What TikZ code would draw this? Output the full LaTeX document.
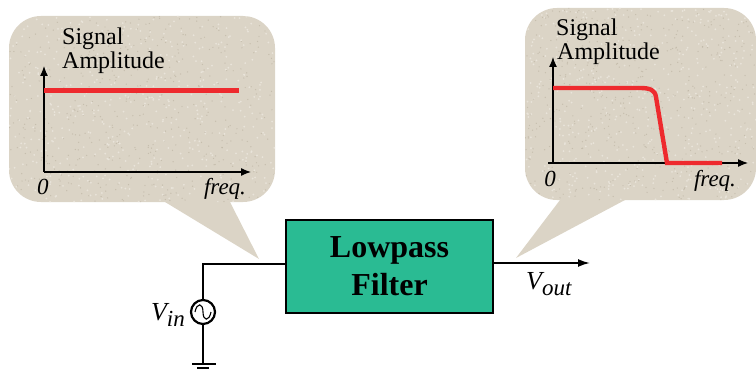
\documentclass[tikz,border=0pt]{standalone}
\usepackage{fontspec}
\setmainfont{Liberation Serif}
\usetikzlibrary{arrows.meta}
\definecolor{bubblefill}{HTML}{DBD4C6}
\definecolor{speckdark}{HTML}{B9B09F}
\definecolor{specklight}{HTML}{E9E4DA}
\definecolor{filterfill}{HTML}{2ABB93}
\definecolor{curvered}{HTML}{EE2A2E}
\newcommand{\itsub}[2]{{\fontsize{26}{27}\selectfont\textit{#1}}\raisebox{-0.3em}{\textit{#2}}}
% grainy paper look of the bubbles
\newcommand{\speckle}[4]{
    \begin{scope}
        \clip[rounded corners=32pt] (#1,#2) rectangle (#3,#4);
        \foreach \i in {1,...,500}{
            \pgfmathsetmacro{\px}{#1+rnd*(#3-#1)}
            \pgfmathsetmacro{\py}{#2+rnd*(#4-#2)}
            \fill[speckdark, opacity=.6] (\px,\py) circle (.7pt);
            \pgfmathsetmacro{\px}{#1+rnd*(#3-#1)}
            \pgfmathsetmacro{\py}{#2+rnd*(#4-#2)}
            \fill[specklight] (\px,\py) circle (1pt);
        }
    \end{scope}
}
\tikzset{
    bubble/.style={fill=bubblefill, rounded corners=32pt, inner sep=0pt},
    axis/.style={draw=black, line width=1.2pt, -{Latex[length=10pt,width=8pt]}},
    curve/.style={draw=curvered, line width=4.4pt},
    wire/.style={draw=black, line width=1.8pt},
    lbl/.style={font=\fontsize{24}{25}\selectfont, inner sep=0pt, anchor=base west},
    ilbl/.style={font=\fontsize{23}{24}\selectfont\itshape, inner sep=0pt, anchor=base}
}
\begin{document}
\begin{tikzpicture}[x=1pt, y=-1pt]
    \useasboundingbox (0,0) rectangle (756,369);
    \pgfmathsetseed{7}
    % left bubble
    \node[bubble, minimum width=266pt, minimum height=186pt] (bubbleA) at (142,109) {};
    \coordinate (tipA) at (259,259);
    \fill[bubblefill] (165,195) -- (165,202) -- (tipA) -- (230,202) -- (230,195) -- cycle;
    \speckle{9}{16}{275}{202}
    % right bubble
    \node[bubble, minimum width=231pt, minimum height=192pt] (bubbleB) at (640.5,104) {};
    \coordinate (tipB) at (516,258);
    \fill[bubblefill] (560,193) -- (560,200) -- (tipB) -- (625,200) -- (625,193) -- cycle;
    \speckle{525}{8}{756}{200}
    % left plot
    \coordinate (originA) at (44,172);
    \coordinate (topA) at (44,66);
    \coordinate (endA) at (251,172);
    \draw[axis] (originA) -- (topA);
    \draw[axis] (originA) -- (endA);
    \coordinate (flatA) at (44,90.5);
    \coordinate (flatAend) at (239,90.5);
    \draw[curve] (flatA) -- (flatAend);
    \node[lbl] (signalA) at (62,45) {Signal};
    \node[lbl] (amplA) at (62,69) {Amplitude};
    \node[ilbl] (zeroA) at (43,194) {0};
    \node[ilbl] (freqA) at (225,194) {freq.};
    % right plot
    \coordinate (originB) at (553,163);
    \coordinate (topB) at (553,57);
    \coordinate (startB) at (548,163);
    \coordinate (endB) at (748,163);
    \draw[axis] (originB) -- (topB);
    \draw[axis] (startB) -- (endB);
    \draw[curve] (553,88) -- (640,88) .. controls (650,88) and (655,90) .. (656,97) -- (667,163) -- (722,163);
    \node[lbl] (signalB) at (556,36) {Signal};
    \node[lbl] (amplB) at (557,60) {Amplitude};
    \node[ilbl] (zeroB) at (550,186) {0};
    \node[ilbl] (freqB) at (715,186) {freq.};
    % filter and circuit
    \node[draw=black, line width=1.2pt, fill=filterfill, minimum width=207pt, minimum height=93pt, align=center,
          font=\fontsize{32}{38}\selectfont\bfseries] (filter) at (389.5,266.5) {Lowpass\\Filter};
    \node[draw=black, circle, line width=2.2pt, minimum size=24pt, inner sep=0pt] (source) at (203,312) {};
    \coordinate (inA) at (286,264);
    \coordinate (corner) at (203,264);
    \coordinate (gnd) at (203,364);
    \coordinate (outA) at (493,263);
    \coordinate (outB) at (590,263);
    \draw[wire] (inA) -- (corner) -- (source.north);
    \draw[wire] (source.south) -- (gnd);
    \draw[wire] (192,364) -- (216,364);
    \draw[wire] (197,368) -- (209,368);
    \draw[line width=1.1pt] (195,312) .. controls (197,302) and (203,303) .. (203,312) .. controls (203,321) and (209,322) .. (211,312);
    \draw[wire, -{Latex[length=12pt,width=8pt]}] (outA) -- (outB);
    \node[ilbl, anchor=base east] (vin) at (185,320) {\itsub{V}{in}};
    \node[ilbl, anchor=base west] (vout) at (526,289) {\itsub{V}{out}};
\end{tikzpicture}
\end{document}
